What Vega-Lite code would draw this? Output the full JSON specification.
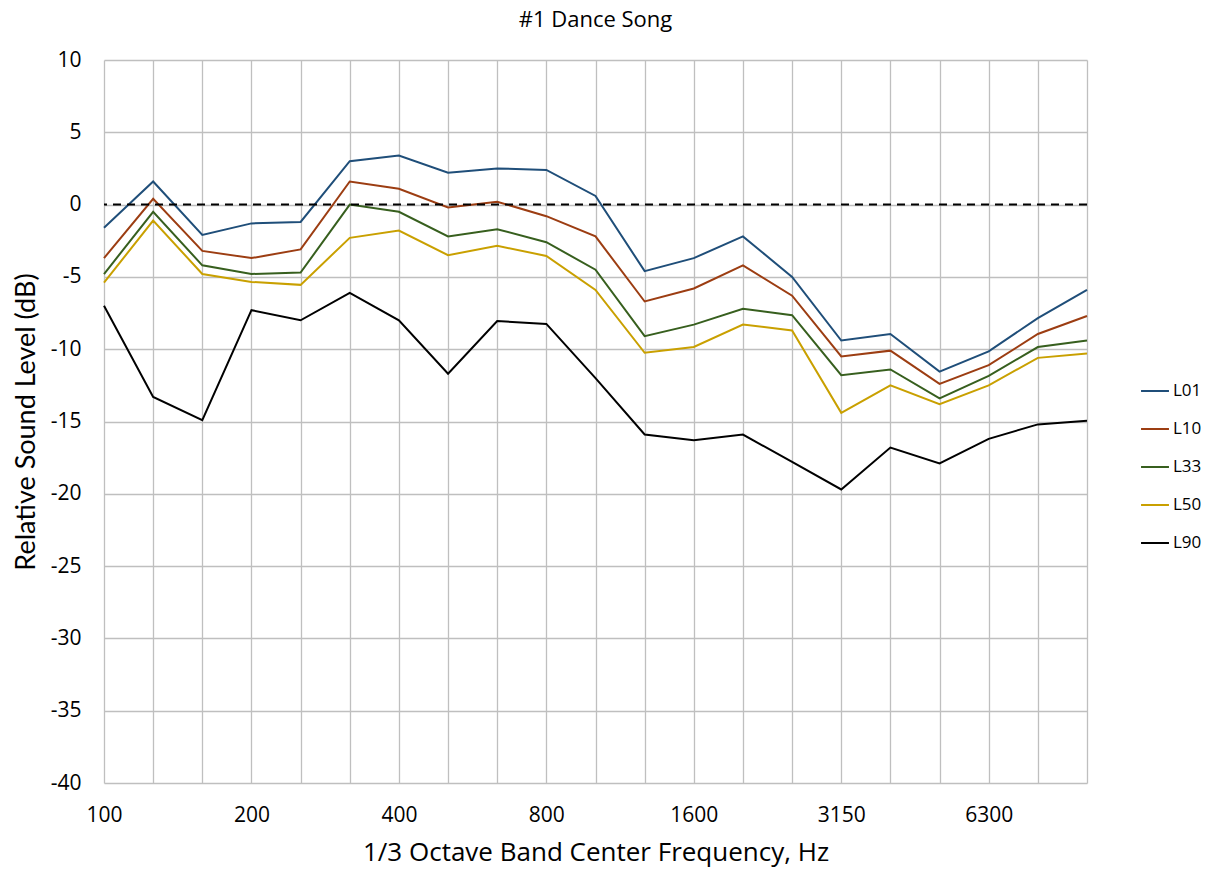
{
  "$schema": "https://vega.github.io/schema/vega-lite/v6.json",
  "width": 983,
  "height": 723,
  "autosize": "none",
  "padding": {"left": 104, "top": 60, "right": 137, "bottom": 93},
  "background": "white",
  "config": {
    "font": "Open Sans",
    "view": {"stroke": null},
    "title": {"font": "Open Sans", "fontSize": 22, "fontWeight": "normal", "color": "#000000", "offset": 17}
  },
  "title": {"text": "#1 Dance Song", "anchor": "middle"},
  "datasets": {
    "levels": [
      {"freq": "100", "series": "L01", "value": -1.6}, {"freq": "125", "series": "L01", "value": 1.6}, {"freq": "160", "series": "L01", "value": -2.1}, {"freq": "200", "series": "L01", "value": -1.3}, {"freq": "250", "series": "L01", "value": -1.2}, {"freq": "315", "series": "L01", "value": 3.0}, {"freq": "400", "series": "L01", "value": 3.4}, {"freq": "500", "series": "L01", "value": 2.2}, {"freq": "630", "series": "L01", "value": 2.5}, {"freq": "800", "series": "L01", "value": 2.4}, {"freq": "1000", "series": "L01", "value": 0.6}, {"freq": "1250", "series": "L01", "value": -4.6}, {"freq": "1600", "series": "L01", "value": -3.7}, {"freq": "2000", "series": "L01", "value": -2.2}, {"freq": "2500", "series": "L01", "value": -5.0}, {"freq": "3150", "series": "L01", "value": -9.4}, {"freq": "4000", "series": "L01", "value": -8.95}, {"freq": "5000", "series": "L01", "value": -11.55}, {"freq": "6300", "series": "L01", "value": -10.15}, {"freq": "8000", "series": "L01", "value": -7.85}, {"freq": "10000", "series": "L01", "value": -5.9},
      {"freq": "100", "series": "L10", "value": -3.7}, {"freq": "125", "series": "L10", "value": 0.4}, {"freq": "160", "series": "L10", "value": -3.2}, {"freq": "200", "series": "L10", "value": -3.7}, {"freq": "250", "series": "L10", "value": -3.1}, {"freq": "315", "series": "L10", "value": 1.6}, {"freq": "400", "series": "L10", "value": 1.1}, {"freq": "500", "series": "L10", "value": -0.2}, {"freq": "630", "series": "L10", "value": 0.2}, {"freq": "800", "series": "L10", "value": -0.8}, {"freq": "1000", "series": "L10", "value": -2.2}, {"freq": "1250", "series": "L10", "value": -6.7}, {"freq": "1600", "series": "L10", "value": -5.8}, {"freq": "2000", "series": "L10", "value": -4.2}, {"freq": "2500", "series": "L10", "value": -6.3}, {"freq": "3150", "series": "L10", "value": -10.5}, {"freq": "4000", "series": "L10", "value": -10.1}, {"freq": "5000", "series": "L10", "value": -12.4}, {"freq": "6300", "series": "L10", "value": -11.1}, {"freq": "8000", "series": "L10", "value": -8.95}, {"freq": "10000", "series": "L10", "value": -7.7},
      {"freq": "100", "series": "L33", "value": -4.8}, {"freq": "125", "series": "L33", "value": -0.5}, {"freq": "160", "series": "L33", "value": -4.2}, {"freq": "200", "series": "L33", "value": -4.8}, {"freq": "250", "series": "L33", "value": -4.7}, {"freq": "315", "series": "L33", "value": 0.0}, {"freq": "400", "series": "L33", "value": -0.5}, {"freq": "500", "series": "L33", "value": -2.2}, {"freq": "630", "series": "L33", "value": -1.7}, {"freq": "800", "series": "L33", "value": -2.6}, {"freq": "1000", "series": "L33", "value": -4.5}, {"freq": "1250", "series": "L33", "value": -9.1}, {"freq": "1600", "series": "L33", "value": -8.3}, {"freq": "2000", "series": "L33", "value": -7.2}, {"freq": "2500", "series": "L33", "value": -7.65}, {"freq": "3150", "series": "L33", "value": -11.8}, {"freq": "4000", "series": "L33", "value": -11.4}, {"freq": "5000", "series": "L33", "value": -13.4}, {"freq": "6300", "series": "L33", "value": -11.85}, {"freq": "8000", "series": "L33", "value": -9.85}, {"freq": "10000", "series": "L33", "value": -9.4},
      {"freq": "100", "series": "L50", "value": -5.4}, {"freq": "125", "series": "L50", "value": -1.1}, {"freq": "160", "series": "L50", "value": -4.8}, {"freq": "200", "series": "L50", "value": -5.35}, {"freq": "250", "series": "L50", "value": -5.55}, {"freq": "315", "series": "L50", "value": -2.3}, {"freq": "400", "series": "L50", "value": -1.8}, {"freq": "500", "series": "L50", "value": -3.5}, {"freq": "630", "series": "L50", "value": -2.85}, {"freq": "800", "series": "L50", "value": -3.55}, {"freq": "1000", "series": "L50", "value": -5.9}, {"freq": "1250", "series": "L50", "value": -10.25}, {"freq": "1600", "series": "L50", "value": -9.85}, {"freq": "2000", "series": "L50", "value": -8.3}, {"freq": "2500", "series": "L50", "value": -8.7}, {"freq": "3150", "series": "L50", "value": -14.4}, {"freq": "4000", "series": "L50", "value": -12.5}, {"freq": "5000", "series": "L50", "value": -13.8}, {"freq": "6300", "series": "L50", "value": -12.5}, {"freq": "8000", "series": "L50", "value": -10.6}, {"freq": "10000", "series": "L50", "value": -10.3},
      {"freq": "100", "series": "L90", "value": -7.0}, {"freq": "125", "series": "L90", "value": -13.3}, {"freq": "160", "series": "L90", "value": -14.9}, {"freq": "200", "series": "L90", "value": -7.3}, {"freq": "250", "series": "L90", "value": -8.0}, {"freq": "315", "series": "L90", "value": -6.1}, {"freq": "400", "series": "L90", "value": -8.0}, {"freq": "500", "series": "L90", "value": -11.7}, {"freq": "630", "series": "L90", "value": -8.05}, {"freq": "800", "series": "L90", "value": -8.25}, {"freq": "1000", "series": "L90", "value": -12.0}, {"freq": "1250", "series": "L90", "value": -15.9}, {"freq": "1600", "series": "L90", "value": -16.3}, {"freq": "2000", "series": "L90", "value": -15.9}, {"freq": "2500", "series": "L90", "value": -17.8}, {"freq": "3150", "series": "L90", "value": -19.7}, {"freq": "4000", "series": "L90", "value": -16.8}, {"freq": "5000", "series": "L90", "value": -17.9}, {"freq": "6300", "series": "L90", "value": -16.2}, {"freq": "8000", "series": "L90", "value": -15.2}, {"freq": "10000", "series": "L90", "value": -14.95}
    ],
    "zero": [{"ref": 0}]
  },
  "layer": [
    {
      "data": {"name": "levels"},
      "mark": {"type": "line", "strokeWidth": 2},
      "encoding": {
        "x": {
          "field": "freq", "type": "ordinal", "sort": null,
          "scale": {"type": "point", "padding": 0},
          "axis": {
            "title": "1/3 Octave Band Center Frequency, Hz",
            "titleFont": "Open Sans", "titleFontSize": 26, "titleFontWeight": "normal", "titleColor": "#000000", "titlePadding": 14,
            "labelExpr": "indexof(['100','200','400','800','1600','3150','6300'], datum.label) >= 0 ? datum.label : ''",
            "labelFontSize": 21, "labelColor": "#000000", "labelPadding": 21, "labelAngle": 0,
            "ticks": false, "domain": false,
            "grid": true, "gridColor": "#BFBFBF", "gridWidth": 1.3
          }
        },
        "y": {
          "field": "value", "type": "quantitative",
          "scale": {"domain": [-40, 10], "nice": false},
          "axis": {
            "title": "Relative Sound Level (dB)",
            "titleFont": "Lato", "titleFontSize": 27, "titleFontWeight": "normal", "titleColor": "#000000", "titlePadding": 10,
            "values": [-40, -35, -30, -25, -20, -15, -10, -5, 0, 5, 10],
            "labelExpr": "replace(datum.label, '\u2212', '-')",
            "labelFontSize": 21, "labelColor": "#000000", "labelPadding": 23,
            "ticks": false, "domain": false,
            "grid": true, "gridColor": "#BFBFBF", "gridWidth": 1.3
          }
        },
        "color": {
          "field": "series", "type": "nominal",
          "scale": {"domain": ["L01", "L10", "L33", "L50", "L90"], "range": ["#1F4E79", "#9C3D12", "#375F1E", "#C9A000", "#000000"]},
          "legend": {
            "title": null, "orient": "none", "legendX": 1036, "legendY": 316,
            "symbolType": "stroke", "symbolSize": 780, "symbolStrokeWidth": 2,
            "labelFont": "Open Sans", "labelFontSize": 17, "labelColor": "#000000", "labelOffset": 3, "rowPadding": 15
          }
        }
      }
    },
    {
      "data": {"name": "zero"},
      "mark": {"type": "rule", "color": "#000000", "strokeWidth": 2, "strokeDash": [8, 6]},
      "encoding": {"y": {"field": "ref", "type": "quantitative"}}
    }
  ]
}
